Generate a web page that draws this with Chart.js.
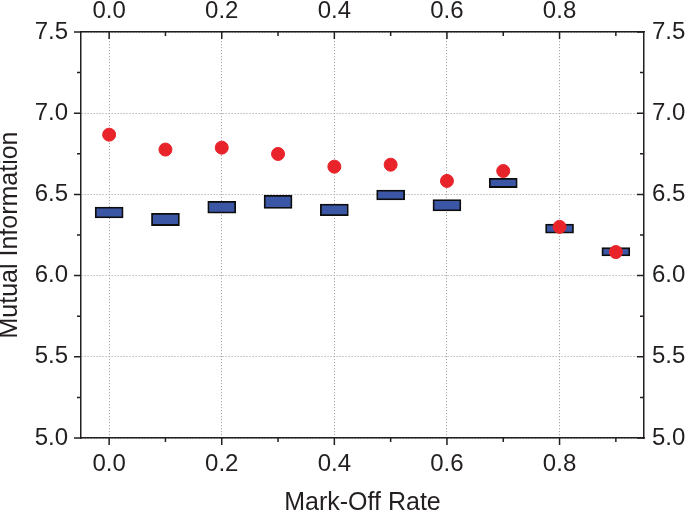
<!DOCTYPE html>
<html lang="en">
<head>
  <meta charset="UTF-8">
  <title>Mutual Information vs Mark-Off Rate</title>
  <script src="https://cdn.jsdelivr.net/npm/chart.js"></script>
  <style>
    html, body {
      margin: 0;
      padding: 0;
      background: #ffffff;
    }
    .wrap {
      width: 685px;
      height: 511px;
    }
  </style>
</head>
<body>
  <div class="wrap">
    <canvas id="miChart" width="685" height="511"></canvas>
  </div>

  <script>
    // values
    const rates = [0.0, 0.1, 0.2, 0.3, 0.4, 0.5, 0.6, 0.7, 0.8, 0.9];
    const boxLow = [6.355, 6.308, 6.384, 6.414, 6.369, 6.466, 6.398, 6.542, 6.261, 6.121];
    const boxHigh = [6.422, 6.384, 6.458, 6.494, 6.441, 6.527, 6.468, 6.599, 6.318, 6.172];
    const dots = [6.868, 6.776, 6.788, 6.749, 6.671, 6.683, 6.583, 6.644, 6.300, 6.145];

    const xTicks = [0.0, 0.2, 0.4, 0.6, 0.8];
    const xMinorTicks = [0.1, 0.3, 0.5, 0.7, 0.9];
    const yTicks = [5.0, 5.5, 6.0, 6.5, 7.0, 7.5];
    const yMinorTicks = [5.25, 5.75, 6.25, 6.75, 7.25];

    const inkColor = '#231f20';
    const gridColor = '#a8a8a8';
    const fontFamily = "'Liberation Sans', Arial, sans-serif";

    // tick marks: outward on bottom/left, inward on top/right
    const tickMarks = {
      id: 'tickMarks',
      afterDraw(chart) {
        const ctx = chart.ctx;
        const area = chart.chartArea;
        const s = chart.scales;
        ctx.save();
        ctx.strokeStyle = inkColor;
        ctx.lineWidth = 1.5;
        ctx.beginPath();
        const xMark = (v, len) => {
          const px = s.x.getPixelForValue(v);
          ctx.moveTo(px, area.bottom);
          ctx.lineTo(px, area.bottom + len);
          ctx.moveTo(px, area.top);
          ctx.lineTo(px, area.top + len);
        };
        const yMark = (v, len) => {
          const py = s.y.getPixelForValue(v);
          ctx.moveTo(area.left, py);
          ctx.lineTo(area.left - len, py);
          ctx.moveTo(area.right, py);
          ctx.lineTo(area.right - len, py);
        };
        xTicks.forEach(v => xMark(v, 7));
        xMinorTicks.forEach(v => xMark(v, 4));
        yTicks.forEach(v => yMark(v, 7));
        yMinorTicks.forEach(v => yMark(v, 4));
        ctx.stroke();
        ctx.restore();
      }
    };

    function setTicks(list) {
      return scale => {
        scale.ticks = list.map(v => ({ value: v }));
      };
    }

    const tickFont = { family: fontFamily, size: 24 };
    const titleFont = { family: fontFamily, size: 25, lineHeight: 1 };

    const ctx = document.getElementById('miChart').getContext('2d');
    new Chart(ctx, {
      type: 'bar',
      data: {
        datasets: [
          {
            type: 'scatter',
            label: 'MI',
            data: rates.map((r, i) => ({ x: r, y: dots[i] })),
            backgroundColor: '#e8232a',
            borderColor: '#e8232a',
            pointRadius: 6.5,
            showLine: false,
            order: 0
          },
          {
            type: 'bar',
            label: 'Range',
            data: rates.map((r, i) => ({ x: r, y: [boxLow[i], boxHigh[i]] })),
            backgroundColor: '#3b56a5',
            borderColor: '#0d0d0d',
            borderWidth: 1.8,
            borderSkipped: false,
            barThickness: 28,
            grouped: false,
            order: 1
          }
        ]
      },
      options: {
        responsive: false,
        animation: false,
        layout: { padding: 0 },
        plugins: {
          legend: { display: false },
          tooltip: { enabled: false }
        },
        scales: {
          x: {
            type: 'linear',
            position: 'bottom',
            min: -0.05,
            max: 0.95,
            offset: false,
            afterBuildTicks: setTicks(xTicks),
            afterFit: scale => { scale.height = 73; },
            grid: { color: gridColor, lineWidth: 1, drawTicks: false, offset: false },
            border: { color: inkColor, width: 1.5, dash: [1.2, 1.8] },
            ticks: {
              color: inkColor,
              font: tickFont,
              padding: 12,
              maxRotation: 0,
              callback: v => v.toFixed(1)
            },
            title: {
              display: true,
              text: 'Mark-Off Rate',
              color: inkColor,
              font: titleFont,
              padding: { top: 0, bottom: -5 }
            }
          },
          x2: {
            type: 'linear',
            position: 'top',
            min: -0.05,
            max: 0.95,
            offset: false,
            afterBuildTicks: setTicks(xTicks),
            afterFit: scale => { scale.height = 32; },
            grid: { display: false, drawTicks: false, offset: false },
            border: { color: inkColor, width: 1.5 },
            ticks: {
              color: inkColor,
              font: tickFont,
              padding: 6,
              maxRotation: 0,
              callback: v => v.toFixed(1)
            }
          },
          y: {
            type: 'linear',
            position: 'left',
            min: 5.0,
            max: 7.5,
            afterBuildTicks: setTicks(yTicks),
            afterFit: scale => { scale.width = 81; },
            grid: { color: gridColor, lineWidth: 1, drawTicks: false },
            border: { color: inkColor, width: 1.5, dash: [1.2, 1.8] },
            ticks: {
              color: inkColor,
              font: tickFont,
              padding: 13,
              callback: v => v.toFixed(1)
            },
            title: {
              display: true,
              text: 'Mutual Information',
              color: inkColor,
              font: titleFont,
              padding: { top: -2, bottom: 0 }
            }
          },
          y2: {
            type: 'linear',
            position: 'right',
            min: 5.0,
            max: 7.5,
            afterBuildTicks: setTicks(yTicks),
            afterFit: scale => { scale.width = 41; },
            grid: { display: false, drawTicks: false },
            border: { color: inkColor, width: 1.5 },
            ticks: {
              color: inkColor,
              font: tickFont,
              padding: 8,
              callback: v => v.toFixed(1)
            }
          }
        }
      },
      plugins: [tickMarks]
    });
  </script>
</body>
</html>
